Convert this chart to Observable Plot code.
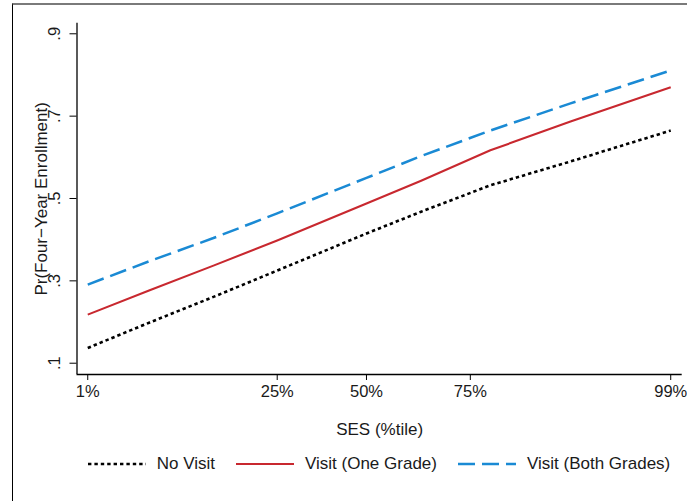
<!DOCTYPE html>
<html>
<head>
<meta charset="utf-8">
<script src="https://cdn.jsdelivr.net/npm/d3@7"></script>
<script src="https://cdn.jsdelivr.net/npm/@observablehq/plot@0.6"></script>
<style>
  html, body { margin: 0; padding: 0; background: #fff; overflow: hidden; }
  body { width: 687px; height: 501px; position: relative; font-family: "Liberation Sans", Arial, sans-serif; }
  #frame { position: absolute; left: 12px; top: 3px; width: 720px; height: 540px;
           border-top: 2px solid #7a7a7a; border-left: 1px solid #000; box-sizing: border-box; }
  #chart { position: absolute; left: 0; top: 0; }
  #legend { position: absolute; top: 454px; left: 76.5px; width: 605px; height: 20px;
            display: flex; justify-content: center; align-items: center; gap: 21px;
            font-size: 17px; color: #1a1a1a; }
  .item { display: flex; align-items: center; gap: 11px; white-space: nowrap; }
</style>
</head>
<body>
<div id="frame"></div>
<div id="chart"></div>
<div id="legend"></div>
<script>
// ---- data ----
const sesScore   = [-1.60, -1.26, -0.91, -0.56, -0.07, 0.23, 0.61, 1.05, 1.60];
const noVisit    = [0.137, 0.199, 0.261, 0.325, 0.415, 0.468, 0.532, 0.590, 0.665];
const oneGrade   = [0.218, 0.277, 0.337, 0.398, 0.488, 0.543, 0.617, 0.687, 0.770];
const bothGrades = [0.291, 0.348, 0.404, 0.464, 0.550, 0.603, 0.665, 0.731, 0.811];
const seriesNames = ["No Visit", "Visit (One Grade)", "Visit (Both Grades)"];
const xTickScores = [-1.60, -0.56, -0.07, 0.50, 1.60];
const xTickLabels = ["1%", "25%", "50%", "75%", "99%"];
const yTicks = [0.1, 0.3, 0.5, 0.7, 0.9];

// ---- styles ----
const styles = [
  {color: "#000000", dash: "3.4,3", width: 2.6},
  {color: "#c8282f", dash: null, width: 2.1},
  {color: "#1a8ad4", dash: "17,7", width: 2.5}
];

const seriesValues = [noVisit, oneGrade, bothGrades];
const table = seriesNames.map((name, k) =>
  sesScore.map((s, i) => ({series: name, ses: s, p: seriesValues[k][i]})));

const xDomain = [-1.659, 1.663];
const yDomain = [0.0726, 0.9257];
const tickLabelOf = new Map(xTickScores.map((s, i) => [s, xTickLabels[i]]));

const chart = Plot.plot({
  width: 687,
  height: 440,
  marginTop: 22.7,
  marginBottom: 66,
  marginLeft: 76.5,
  marginRight: 5.3,
  style: {fontFamily: "Liberation Sans, Arial, sans-serif", fontSize: "16px", color: "#1a1a1a", background: "transparent"},
  x: {domain: xDomain},
  y: {domain: yDomain},
  marks: [
    Plot.ruleX([xDomain[0]], {stroke: "#000", strokeWidth: 1.3}),
    Plot.ruleY([yDomain[0]], {stroke: "#000", strokeWidth: 1.3}),
    Plot.axisX({ticks: xTickScores, tickFormat: d => tickLabelOf.get(d), tickSize: 6, tickPadding: 5, fontSize: 16.5, label: null, stroke: "#000"}),
    Plot.axisY({ticks: yTicks, tickFormat: d => String(d).replace(/^0/, ""), tickSize: 7, tickPadding: 15.5,
                tickRotate: -90, textAnchor: "middle", lineAnchor: "middle", fontSize: 16.5, label: null, stroke: "#000"}),
    Plot.text(["Pr(Four\u2212Year Enrollment)"], {frameAnchor: "left", textAnchor: "middle", dx: -35, rotate: -90, fontSize: 17, fill: "#1a1a1a"}),
    Plot.text(["SES (%tile)"], {frameAnchor: "bottom", textAnchor: "middle", dy: 60, fontSize: 17, fill: "#1a1a1a"}),
    ...table.map((rows, k) => Plot.line(rows, {
      x: "ses", y: "p",
      stroke: styles[k].color,
      strokeWidth: styles[k].width,
      strokeDasharray: styles[k].dash,
      strokeLinecap: "butt",
      strokeLinejoin: "round"
    }))
  ]
});
document.getElementById("chart").appendChild(chart);

// ---- legend ----
const legend = document.getElementById("legend");
seriesNames.forEach((name, k) => {
  const item = document.createElement("div");
  item.className = "item";
  const s = styles[k];
  item.innerHTML = `<svg width="58" height="8"><line x1="0" y1="4" x2="58" y2="4" stroke="${s.color}" stroke-width="${s.width}" ${s.dash ? `stroke-dasharray="${s.dash}"` : ""}/></svg><span>${name}</span>`;
  legend.appendChild(item);
});
</script>
</body>
</html>
